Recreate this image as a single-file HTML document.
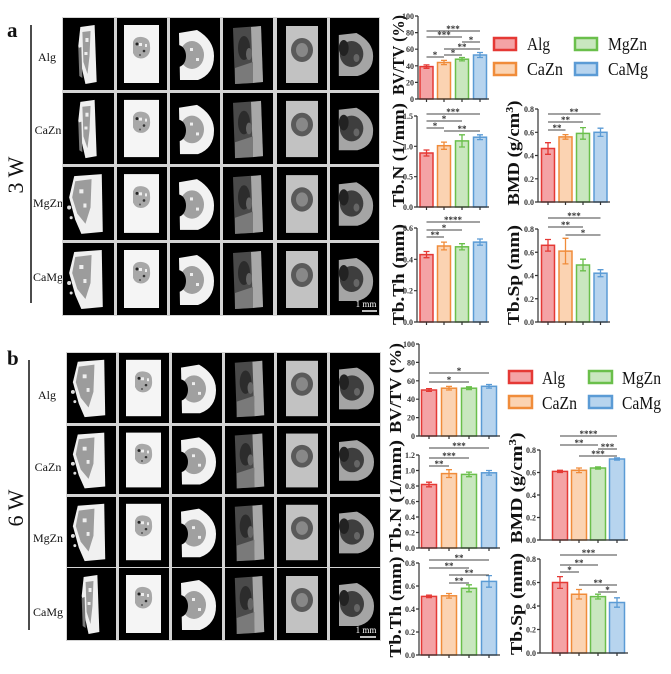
<!DOCTYPE html>
<html><head><meta charset="utf-8"><style>
html,body{margin:0;padding:0;background:#fff;}
svg{display:block;}
text{font-family:"Liberation Serif","Times New Roman",serif;}
.tk{font-size:8px;font-weight:bold;fill:#333;text-anchor:end;}
.st{font-size:9px;font-weight:bold;fill:#333;text-anchor:middle;}
.ax{stroke:#333;stroke-width:1.2;fill:none;}
.sg{stroke:#444;stroke-width:1;}
.lab{font-size:17px;font-weight:bold;fill:#111;text-anchor:middle;}
.row{font-size:12px;fill:#111;text-anchor:middle;}
.lg{font-size:18px;fill:#111;}
.r{fill:#f4a3a5;stroke:#e53935;stroke-width:1.5;}
.o{fill:#fbd3b2;stroke:#f08c3a;stroke-width:1.5;}
.g{fill:#c9e7bf;stroke:#6abf4b;stroke-width:1.5;}
.b{fill:#b7d4ee;stroke:#5b9bd5;stroke-width:1.5;}
.er{stroke:#e53935;stroke-width:1.3;fill:none;}
.eo{stroke:#f08c3a;stroke-width:1.3;fill:none;}
.eg{stroke:#6abf4b;stroke-width:1.3;fill:none;}
.eb{stroke:#5b9bd5;stroke-width:1.3;fill:none;}
</style></head><body>
<svg width="671" height="674" viewBox="0 0 671 674" xmlns="http://www.w3.org/2000/svg">
<defs>
<symbol id="s1" viewBox="0 0 50 72" preserveAspectRatio="none">
<rect width="50" height="72" fill="#000"/>
<polygon points="17,9 31,7 33,64 22,66 18,48 15,28" fill="#f0f0f0"/>
<polygon points="19,14 27,13 26,38 24,56 20,44" fill="#9c9c9c"/>
<polygon points="15,30 18,29 19,60 16,58" fill="#777"/>
<rect x="22" y="20" width="3" height="4" fill="#eee"/><rect x="21" y="34" width="3" height="3" fill="#eee"/>
</symbol>
<symbol id="s1w" viewBox="0 0 50 72" preserveAspectRatio="none">
<rect width="50" height="72" fill="#000"/>
<polygon points="11,9 38,7 39,64 18,66 12,52 6,30" fill="#f0f0f0"/>
<polygon points="12,14 28,12 27,40 22,56 14,46 9,30" fill="#9c9c9c"/>
<rect x="16" y="22" width="4" height="4" fill="#eee"/><rect x="20" y="36" width="3" height="4" fill="#eee"/>
<circle cx="6" cy="40" r="2" fill="#ddd"/><circle cx="8" cy="50" r="1.5" fill="#ddd"/>
</symbol>
<symbol id="s2" viewBox="0 0 50 72" preserveAspectRatio="none">
<rect width="50" height="72" fill="#000"/>
<rect x="7" y="7" width="35" height="58" fill="#f5f5f5"/>
<path d="M16,24 Q18,18 25,19 Q33,20 33,28 Q34,37 27,40 Q19,42 16,35 Z" fill="#a8a8a8"/>
<circle cx="20" cy="26" r="1.5" fill="#222"/><circle cx="27" cy="33" r="1.3" fill="#333"/><circle cx="23" cy="37" r="1" fill="#555"/>
<rect x="22" y="25" width="3" height="3" fill="#eee"/><rect x="28" y="26" width="2" height="3" fill="#eee"/>
</symbol>
<symbol id="s3" viewBox="0 0 50 72" preserveAspectRatio="none">
<rect width="50" height="72" fill="#000"/>
<path d="M9,15 L27,12 Q44,22 44,38 Q44,56 28,62 L10,62 Z" fill="#f2f2f2"/>
<ellipse cx="22" cy="37" rx="12" ry="14" fill="#a0a0a0"/>
<rect x="20" y="30" width="3" height="3" fill="#eee"/><rect x="26" y="40" width="3" height="3" fill="#eee"/>
<ellipse cx="8" cy="38" rx="8" ry="11" fill="#000"/>
</symbol>
<symbol id="s4" viewBox="0 0 50 72" preserveAspectRatio="none">
<rect width="50" height="72" fill="#000"/>
<polygon points="10,10 38,8 40,64 12,66" fill="#4a4a4a"/>
<polygon points="28,9 38,8 40,64 30,65" fill="#a8a8a8"/>
<polygon points="12,50 30,44 30,65 12,66" fill="#7a7a7a"/>
<ellipse cx="21" cy="30" rx="6" ry="12" fill="#2c2c2c"/>
<ellipse cx="26" cy="36" rx="3" ry="6" fill="#666"/>
</symbol>
<symbol id="s5" viewBox="0 0 50 72" preserveAspectRatio="none">
<rect width="50" height="72" fill="#000"/>
<rect x="9" y="8" width="32" height="57" fill="#c2c2c2"/>
<ellipse cx="25" cy="32" rx="11" ry="12" fill="#5a5a5a"/>
<ellipse cx="25" cy="32" rx="6" ry="7" fill="#888"/>
</symbol>
<symbol id="s6" viewBox="0 0 50 72" preserveAspectRatio="none">
<rect width="50" height="72" fill="#000"/>
<path d="M9,17 L27,15 Q44,24 44,38 Q44,54 28,58 L9,58 Z" fill="#a5a5a5"/>
<ellipse cx="22" cy="36" rx="12" ry="13" fill="#3e3e3e"/>
<ellipse cx="14" cy="30" rx="5" ry="8" fill="#222"/>
<ellipse cx="27" cy="40" rx="3" ry="4" fill="#666"/>
</symbol>
</defs>

<!-- Panel a -->
<text x="7" y="37" font-size="21" font-weight="bold" fill="#111">a</text>
<line x1="31" y1="25" x2="31" y2="303" stroke="#111" stroke-width="1.5"/>
<text transform="translate(23,175) rotate(-90)" font-size="22" text-anchor="middle" fill="#111">3 W</text>
<text class="row" x="47" y="61">Alg</text>
<text class="row" x="48" y="134">CaZn</text>
<text class="row" x="48" y="207">MgZn</text>
<text class="row" x="48" y="281">CaMg</text>
<rect x="62" y="17" width="318" height="299" fill="#d4d4d4"/>
<use href="#s1" x="63" y="18" width="51" height="72"/><use href="#s2" x="117" y="18" width="50" height="72"/><use href="#s3" x="170" y="18" width="50" height="72"/><use href="#s4" x="223" y="18" width="50" height="72"/><use href="#s5" x="277" y="18" width="50" height="72"/><use href="#s6" x="330" y="18" width="49" height="72"/>
<use href="#s1" x="63" y="93" width="51" height="71"/><use href="#s2" x="117" y="93" width="50" height="71"/><use href="#s3" x="170" y="93" width="50" height="71"/><use href="#s4" x="223" y="93" width="50" height="71"/><use href="#s5" x="277" y="93" width="50" height="71"/><use href="#s6" x="330" y="93" width="49" height="71"/>
<use href="#s1w" x="63" y="167" width="51" height="73"/><use href="#s2" x="117" y="167" width="50" height="73"/><use href="#s3" x="170" y="167" width="50" height="73"/><use href="#s4" x="223" y="167" width="50" height="73"/><use href="#s5" x="277" y="167" width="50" height="73"/><use href="#s6" x="330" y="167" width="49" height="73"/>
<use href="#s1w" x="63" y="243" width="51" height="72"/><use href="#s2" x="117" y="243" width="50" height="72"/><use href="#s3" x="170" y="243" width="50" height="72"/><use href="#s4" x="223" y="243" width="50" height="72"/><use href="#s5" x="277" y="243" width="50" height="72"/><use href="#s6" x="330" y="243" width="49" height="72"/>
<text x="366" y="307" font-size="9" fill="#fff" text-anchor="middle">1 mm</text>
<line x1="362" y1="311" x2="377" y2="311" stroke="#fff" stroke-width="1.5"/>

<!-- Panel b -->
<text x="7" y="365" font-size="21" font-weight="bold" fill="#111">b</text>
<line x1="29" y1="360" x2="29" y2="630" stroke="#111" stroke-width="1.5"/>
<text transform="translate(23,508) rotate(-90)" font-size="22" text-anchor="middle" fill="#111">6 W</text>
<text class="row" x="47" y="399">Alg</text>
<text class="row" x="48" y="471">CaZn</text>
<text class="row" x="48" y="542">MgZn</text>
<text class="row" x="48" y="616">CaMg</text>
<rect x="66" y="352" width="315" height="289" fill="#d4d4d4"/>
<use href="#s1w" x="67" y="353" width="49" height="70"/><use href="#s2" x="119" y="353" width="50" height="70"/><use href="#s3" x="172" y="353" width="50" height="70"/><use href="#s4" x="225" y="353" width="49" height="70"/><use href="#s5" x="277" y="353" width="50" height="70"/><use href="#s6" x="330" y="353" width="50" height="70"/>
<use href="#s1w" x="67" y="426" width="49" height="68"/><use href="#s2" x="119" y="426" width="50" height="68"/><use href="#s3" x="172" y="426" width="50" height="68"/><use href="#s4" x="225" y="426" width="49" height="68"/><use href="#s5" x="277" y="426" width="50" height="68"/><use href="#s6" x="330" y="426" width="50" height="68"/>
<use href="#s1w" x="67" y="497" width="49" height="70"/><use href="#s2" x="119" y="497" width="50" height="70"/><use href="#s3" x="172" y="497" width="50" height="70"/><use href="#s4" x="225" y="497" width="49" height="70"/><use href="#s5" x="277" y="497" width="50" height="70"/><use href="#s6" x="330" y="497" width="50" height="70"/>
<use href="#s1" x="67" y="568" width="49" height="72"/><use href="#s2" x="119" y="568" width="50" height="72"/><use href="#s3" x="172" y="568" width="50" height="72"/><use href="#s4" x="225" y="568" width="49" height="72"/><use href="#s5" x="277" y="568" width="50" height="72"/><use href="#s6" x="330" y="568" width="50" height="72"/>
<text x="366" y="633" font-size="9" fill="#fff" text-anchor="middle">1 mm</text>
<line x1="360" y1="637" x2="376" y2="637" stroke="#fff" stroke-width="1.5"/>

<!-- ===== Charts panel a ===== -->
<!-- A1 BV/TV -->
<text class="lab" transform="translate(404,55) rotate(-90)" textLength="80" lengthAdjust="spacingAndGlyphs">BV/TV (%)</text>
<rect class="r" x="420" y="66.6" width="13" height="32.4"/>
<rect class="o" x="437.5" y="62.5" width="13" height="36.5"/>
<rect class="g" x="455.5" y="59.2" width="13" height="39.8"/>
<rect class="b" x="473.5" y="55" width="13" height="44"/>
<path class="er" d="M426.5,64.9V68.3M423.5,64.9h6M423.5,68.3h6"/>
<path class="eo" d="M444,60.4V64.6M441,60.4h6M441,64.6h6"/>
<path class="eg" d="M462,57.5V60.9M459,57.5h6M459,60.9h6"/>
<path class="eb" d="M480,52.5V57.5M477,52.5h6M477,57.5h6"/>
<path class="ax" d="M418,16V99H489M415,99H418M415,82.4H418M415,65.8H418M415,49.2H418M415,32.6H418M415,16H418M426.5,99v3M444,99v3M462,99v3M480,99v3"/>
<text class="tk" x="414" y="102">0</text><text class="tk" x="414" y="85.4">20</text><text class="tk" x="414" y="68.8">40</text><text class="tk" x="414" y="52.2">60</text><text class="tk" x="414" y="35.6">80</text><text class="tk" x="414" y="19">100</text>
<path class="sg" d="M426.5,31H480M426.5,37H462M462,42H480M444,49H480M426.5,57H444M444,55H462"/>
<text class="st" x="453" y="32">***</text><text class="st" x="444" y="38">***</text><text class="st" x="471" y="43">*</text><text class="st" x="462" y="50">**</text><text class="st" x="435" y="58">*</text><text class="st" x="453" y="56">*</text>

<!-- Legend a -->
<rect x="494" y="38" width="22" height="12" fill="#f4a3a5" stroke="#e53935" stroke-width="2.5"/>
<rect x="494" y="63" width="22" height="12" fill="#fbd3b2" stroke="#f08c3a" stroke-width="2.5"/>
<rect x="575" y="38" width="22" height="12" fill="#c9e7bf" stroke="#6abf4b" stroke-width="2.5"/>
<rect x="575" y="63" width="22" height="12" fill="#b7d4ee" stroke="#5b9bd5" stroke-width="2.5"/>
<text class="lg" x="527" y="50" textLength="23" lengthAdjust="spacingAndGlyphs">Alg</text>
<text class="lg" x="527" y="75" textLength="36" lengthAdjust="spacingAndGlyphs">CaZn</text>
<text class="lg" x="608" y="50" textLength="39" lengthAdjust="spacingAndGlyphs">MgZn</text>
<text class="lg" x="608" y="75" textLength="40" lengthAdjust="spacingAndGlyphs">CaMg</text>

<!-- A2 Tb.N -->
<text class="lab" transform="translate(404,155) rotate(-90)" textLength="104" lengthAdjust="spacingAndGlyphs">Tb.N (1/mm)</text>
<rect class="r" x="420" y="153" width="13" height="54"/>
<rect class="o" x="437.5" y="145.7" width="13" height="61.3"/>
<rect class="g" x="455.5" y="140.9" width="13" height="66.1"/>
<rect class="b" x="473.5" y="137.2" width="13" height="69.8"/>
<path class="er" d="M426.5,150V156M423.5,150h6M423.5,156h6"/>
<path class="eo" d="M444,142.1V149.3M441,142.1h6M441,149.3h6"/>
<path class="eg" d="M462,134.8V147M459,134.8h6M459,147h6"/>
<path class="eb" d="M480,134.8V139.6M477,134.8h6M477,139.6h6"/>
<path class="ax" d="M417,116V207H489M414,207H417M414,176.7H417M414,146.3H417M414,116H417M426.5,207v3M444,207v3M462,207v3M480,207v3"/>
<text class="tk" x="413" y="210">0.0</text><text class="tk" x="413" y="179.7">0.5</text><text class="tk" x="413" y="149.3">1.0</text><text class="tk" x="413" y="119">1.5</text>
<path class="sg" d="M426.5,114H480M426.5,121H462M426.5,128H444M444,131H480"/>
<text class="st" x="453" y="115">***</text><text class="st" x="444" y="122">*</text><text class="st" x="435" y="129">*</text><text class="st" x="462" y="132">**</text>

<!-- A3 BMD -->
<text class="lab" transform="translate(519,153) rotate(-90)" textLength="105" lengthAdjust="spacingAndGlyphs">BMD (g/cm<tspan dy="-6" font-size="11">3</tspan><tspan dy="6">)</tspan></text>
<rect class="r" x="541.5" y="148.5" width="13" height="53.5"/>
<rect class="o" x="559" y="136.9" width="13" height="65.1"/>
<rect class="g" x="576.5" y="133.4" width="13" height="68.6"/>
<rect class="b" x="594" y="132.3" width="13" height="69.7"/>
<path class="er" d="M548,142.7V154.3M545,142.7h6M545,154.3h6"/>
<path class="eo" d="M565.5,134.6V139.2M562.5,134.6h6M562.5,139.2h6"/>
<path class="eg" d="M583,127.6V139.2M580,127.6h6M580,139.2h6"/>
<path class="eb" d="M600.5,128.2V136.4M597.5,128.2h6M597.5,136.4h6"/>
<path class="ax" d="M538,109V202H610M535,202H538M535,178.8H538M535,155.5H538M535,132.3H538M535,109H538M548,202v3M565.5,202v3M583,202v3M600.5,202v3"/>
<text class="tk" x="534" y="205">0.0</text><text class="tk" x="534" y="181.8">0.2</text><text class="tk" x="534" y="158.5">0.4</text><text class="tk" x="534" y="135.3">0.6</text><text class="tk" x="534" y="112">0.8</text>
<path class="sg" d="M548,114H600.5M548,122H583M548,130H565.5"/>
<text class="st" x="574" y="115">**</text><text class="st" x="565.5" y="123">**</text><text class="st" x="557" y="131">**</text>

<!-- A4 Tb.Th -->
<text class="lab" transform="translate(404,274.5) rotate(-90)" textLength="101" lengthAdjust="spacingAndGlyphs">Tb.Th (mm)</text>
<rect class="r" x="420" y="254.6" width="13" height="67.4"/>
<rect class="o" x="437.5" y="246" width="13" height="76"/>
<rect class="g" x="455.5" y="246.8" width="13" height="75.2"/>
<rect class="b" x="473.5" y="242.1" width="13" height="79.9"/>
<path class="er" d="M426.5,251.5V257.7M423.5,251.5h6M423.5,257.7h6"/>
<path class="eo" d="M444,242.1V249.9M441,242.1h6M441,249.9h6"/>
<path class="eg" d="M462,243.7V249.9M459,243.7h6M459,249.9h6"/>
<path class="eb" d="M480,239V245.2M477,239h6M477,245.2h6"/>
<path class="ax" d="M417,228V322H489M414,322H417M414,290.7H417M414,259.3H417M414,228H417M426.5,322v3M444,322v3M462,322v3M480,322v3"/>
<text class="tk" x="413" y="325">0.0</text><text class="tk" x="413" y="293.7">0.2</text><text class="tk" x="413" y="262.3">0.4</text><text class="tk" x="413" y="231">0.6</text>
<path class="sg" d="M426.5,222H480M426.5,230H462M426.5,237H444"/>
<text class="st" x="453" y="223">****</text><text class="st" x="444" y="231">*</text><text class="st" x="435" y="238">**</text>

<!-- A5 Tb.Sp -->
<text class="lab" transform="translate(519,275) rotate(-90)" textLength="100" lengthAdjust="spacingAndGlyphs">Tb.Sp (mm)</text>
<rect class="r" x="541.5" y="245.3" width="13" height="76.7"/>
<rect class="o" x="559" y="251.1" width="13" height="70.9"/>
<rect class="g" x="576.5" y="265" width="13" height="57"/>
<rect class="b" x="594" y="273.2" width="13" height="48.8"/>
<path class="er" d="M548,239.5V251.1M545,239.5h6M545,251.1h6"/>
<path class="eo" d="M565.5,238.3V263.9M562.5,238.3h6M562.5,263.9h6"/>
<path class="eg" d="M583,259.2V270.8M580,259.2h6M580,270.8h6"/>
<path class="eb" d="M600.5,269.7V276.7M597.5,269.7h6M597.5,276.7h6"/>
<path class="ax" d="M538,229V322H610M535,322H538M535,298.75H538M535,275.5H538M535,252.25H538M535,229H538M548,322v3M565.5,322v3M583,322v3M600.5,322v3"/>
<text class="tk" x="534" y="325">0.0</text><text class="tk" x="534" y="301.75">0.2</text><text class="tk" x="534" y="278.5">0.4</text><text class="tk" x="534" y="255.25">0.6</text><text class="tk" x="534" y="232">0.8</text>
<path class="sg" d="M548,218H600.5M548,227H583M565.5,235H600.5"/>
<text class="st" x="574" y="219">***</text><text class="st" x="565.5" y="228">**</text><text class="st" x="583" y="236">*</text>

<!-- ===== Charts panel b ===== -->
<!-- B1 BV/TV -->
<text class="lab" transform="translate(401,388) rotate(-90)" textLength="90" lengthAdjust="spacingAndGlyphs">BV/TV (%)</text>
<rect class="r" x="421.5" y="390" width="15" height="46"/>
<rect class="o" x="441.5" y="388.2" width="15" height="47.8"/>
<rect class="g" x="461.5" y="388.2" width="15" height="47.8"/>
<rect class="b" x="481.5" y="386.3" width="15" height="49.7"/>
<path class="er" d="M429,388.6V391.4M426,388.6h6M426,391.4h6"/>
<path class="eo" d="M449,386.4V390M446,386.4h6M446,390h6"/>
<path class="eg" d="M469,386.8V389.6M466,386.8h6M466,389.6h6"/>
<path class="eb" d="M489,384.5V388.1M486,384.5h6M486,388.1h6"/>
<path class="ax" d="M419,344V436H500M416,436H419M416,417.6H419M416,399.2H419M416,380.8H419M416,362.4H419M416,344H419M429,436v3M449,436v3M469,436v3M489,436v3"/>
<text class="tk" x="415" y="439">0</text><text class="tk" x="415" y="420.6">20</text><text class="tk" x="415" y="402.2">40</text><text class="tk" x="415" y="383.8">60</text><text class="tk" x="415" y="365.4">80</text><text class="tk" x="415" y="347">100</text>
<path class="sg" d="M429,373H489M429,382H469"/>
<text class="st" x="459" y="374">*</text><text class="st" x="449" y="383">*</text>

<!-- Legend b -->
<rect x="509" y="371" width="23" height="12" fill="#f4a3a5" stroke="#e53935" stroke-width="2.5"/>
<rect x="509" y="396" width="23" height="12" fill="#fbd3b2" stroke="#f08c3a" stroke-width="2.5"/>
<rect x="589" y="371" width="23" height="12" fill="#c9e7bf" stroke="#6abf4b" stroke-width="2.5"/>
<rect x="589" y="396" width="23" height="12" fill="#b7d4ee" stroke="#5b9bd5" stroke-width="2.5"/>
<text class="lg" x="542" y="384" textLength="23" lengthAdjust="spacingAndGlyphs">Alg</text>
<text class="lg" x="542" y="409" textLength="35" lengthAdjust="spacingAndGlyphs">CaZn</text>
<text class="lg" x="622" y="384" textLength="39" lengthAdjust="spacingAndGlyphs">MgZn</text>
<text class="lg" x="622" y="409" textLength="39" lengthAdjust="spacingAndGlyphs">CaMg</text>

<!-- B2 Tb.N -->
<text class="lab" transform="translate(401,496) rotate(-90)" textLength="112" lengthAdjust="spacingAndGlyphs">Tb.N (1/mm)</text>
<rect class="r" x="421.5" y="484.5" width="15" height="63.5"/>
<rect class="o" x="441.5" y="473.6" width="15" height="74.4"/>
<rect class="g" x="461.5" y="474.4" width="15" height="73.6"/>
<rect class="b" x="481.5" y="472.8" width="15" height="75.2"/>
<path class="er" d="M429,482.2V486.8M426,482.2h6M426,486.8h6"/>
<path class="eo" d="M449,469.7V477.5M446,469.7h6M446,477.5h6"/>
<path class="eg" d="M469,472.1V476.7M466,472.1h6M466,476.7h6"/>
<path class="eb" d="M489,470.5V475.1M486,470.5h6M486,475.1h6"/>
<path class="ax" d="M419,455V548H500M416,548H419M416,532.5H419M416,517H419M416,501.5H419M416,486H419M416,470.5H419M416,455H419M429,548v3M449,548v3M469,548v3M489,548v3"/>
<text class="tk" x="415" y="551">0.0</text><text class="tk" x="415" y="535.5">0.2</text><text class="tk" x="415" y="520">0.4</text><text class="tk" x="415" y="504.5">0.6</text><text class="tk" x="415" y="489">0.8</text><text class="tk" x="415" y="473.5">1.0</text><text class="tk" x="415" y="458">1.2</text>
<path class="sg" d="M429,448H489M429,458H469M429,466H449"/>
<text class="st" x="459" y="449">***</text><text class="st" x="449" y="459">***</text><text class="st" x="439" y="467">**</text>

<!-- B3 BMD -->
<text class="lab" transform="translate(522,488) rotate(-90)" textLength="111" lengthAdjust="spacingAndGlyphs">BMD (g/cm<tspan dy="-6" font-size="11">3</tspan><tspan dy="6">)</tspan></text>
<rect class="r" x="552.5" y="471.4" width="15" height="68.6"/>
<rect class="o" x="571.5" y="470.3" width="15" height="69.7"/>
<rect class="g" x="590.5" y="468" width="15" height="72"/>
<rect class="b" x="609.5" y="459" width="15" height="81"/>
<path class="er" d="M560,470.3V472.5M557,470.3h6M557,472.5h6"/>
<path class="eo" d="M579,468V472.6M576,468h6M576,472.6h6"/>
<path class="eg" d="M598,466.9V469.1M595,466.9h6M595,469.1h6"/>
<path class="eb" d="M617,457.9V460.1M614,457.9h6M614,460.1h6"/>
<path class="ax" d="M540,450V540H628M537,540H540M537,517.5H540M537,495H540M537,472.5H540M537,450H540M560,540v3M579,540v3M598,540v3M617,540v3"/>
<text class="tk" x="536" y="543">0.0</text><text class="tk" x="536" y="520.5">0.2</text><text class="tk" x="536" y="498">0.4</text><text class="tk" x="536" y="475.5">0.6</text><text class="tk" x="536" y="453">0.8</text>
<path class="sg" d="M560,436H617M560,445H598M598,449H617M579,456H617"/>
<text class="st" x="588.5" y="437">****</text><text class="st" x="579" y="446">**</text><text class="st" x="607.5" y="450">***</text><text class="st" x="598" y="457">***</text>

<!-- B4 Tb.Th -->
<text class="lab" transform="translate(401,607) rotate(-90)" textLength="101" lengthAdjust="spacingAndGlyphs">Tb.Th (mm)</text>
<rect class="r" x="421.5" y="596.4" width="15" height="58.6"/>
<rect class="o" x="441.5" y="595.8" width="15" height="59.2"/>
<rect class="g" x="461.5" y="588.3" width="15" height="66.7"/>
<rect class="b" x="481.5" y="581.4" width="15" height="73.6"/>
<path class="er" d="M429,595.2V597.6M426,595.2h6M426,597.6h6"/>
<path class="eo" d="M449,593.5V598.1M446,593.5h6M446,598.1h6"/>
<path class="eg" d="M469,584.8V591.8M466,584.8h6M466,591.8h6"/>
<path class="eb" d="M489,575.6V587.2M486,575.6h6M486,587.2h6"/>
<path class="ax" d="M419,563V655H500M416,655H419M416,632H419M416,609H419M416,586H419M416,563H419M429,655v3M449,655v3M469,655v3M489,655v3"/>
<text class="tk" x="415" y="658">0.0</text><text class="tk" x="415" y="635">0.2</text><text class="tk" x="415" y="612">0.4</text><text class="tk" x="415" y="589">0.6</text><text class="tk" x="415" y="566">0.8</text>
<path class="sg" d="M429,560H489M429,568H469M449,575H489M449,583H469"/>
<text class="st" x="459" y="561">**</text><text class="st" x="449" y="569">**</text><text class="st" x="469" y="576">**</text><text class="st" x="459" y="584">**</text>

<!-- B5 Tb.Sp -->
<text class="lab" transform="translate(522,604) rotate(-90)" textLength="102" lengthAdjust="spacingAndGlyphs">Tb.Sp (mm)</text>
<rect class="r" x="552.5" y="582.5" width="15" height="70.5"/>
<rect class="o" x="571.5" y="594.25" width="15" height="58.75"/>
<rect class="g" x="590.5" y="596.6" width="15" height="56.4"/>
<rect class="b" x="609.5" y="602.5" width="15" height="50.5"/>
<path class="er" d="M560,576.6V588.4M557,576.6h6M557,588.4h6"/>
<path class="eo" d="M579,589.5V599M576,589.5h6M576,599h6"/>
<path class="eg" d="M598,594.2V599M595,594.2h6M595,599h6"/>
<path class="eb" d="M617,597.8V607.2M614,597.8h6M614,607.2h6"/>
<path class="ax" d="M540,559V653H628M537,653H540M537,629.5H540M537,606H540M537,582.5H540M537,559H540M560,653v3M579,653v3M598,653v3M617,653v3"/>
<text class="tk" x="536" y="656">0.0</text><text class="tk" x="536" y="632.5">0.2</text><text class="tk" x="536" y="609">0.4</text><text class="tk" x="536" y="585.5">0.6</text><text class="tk" x="536" y="562">0.8</text>
<path class="sg" d="M560,555H617M560,565H598M560,572H579M579,585H617M598,592H617"/>
<text class="st" x="588.5" y="556">***</text><text class="st" x="579" y="566">**</text><text class="st" x="569.5" y="573">*</text><text class="st" x="598" y="586">**</text><text class="st" x="607.5" y="593">*</text>
</svg>
</body></html>
